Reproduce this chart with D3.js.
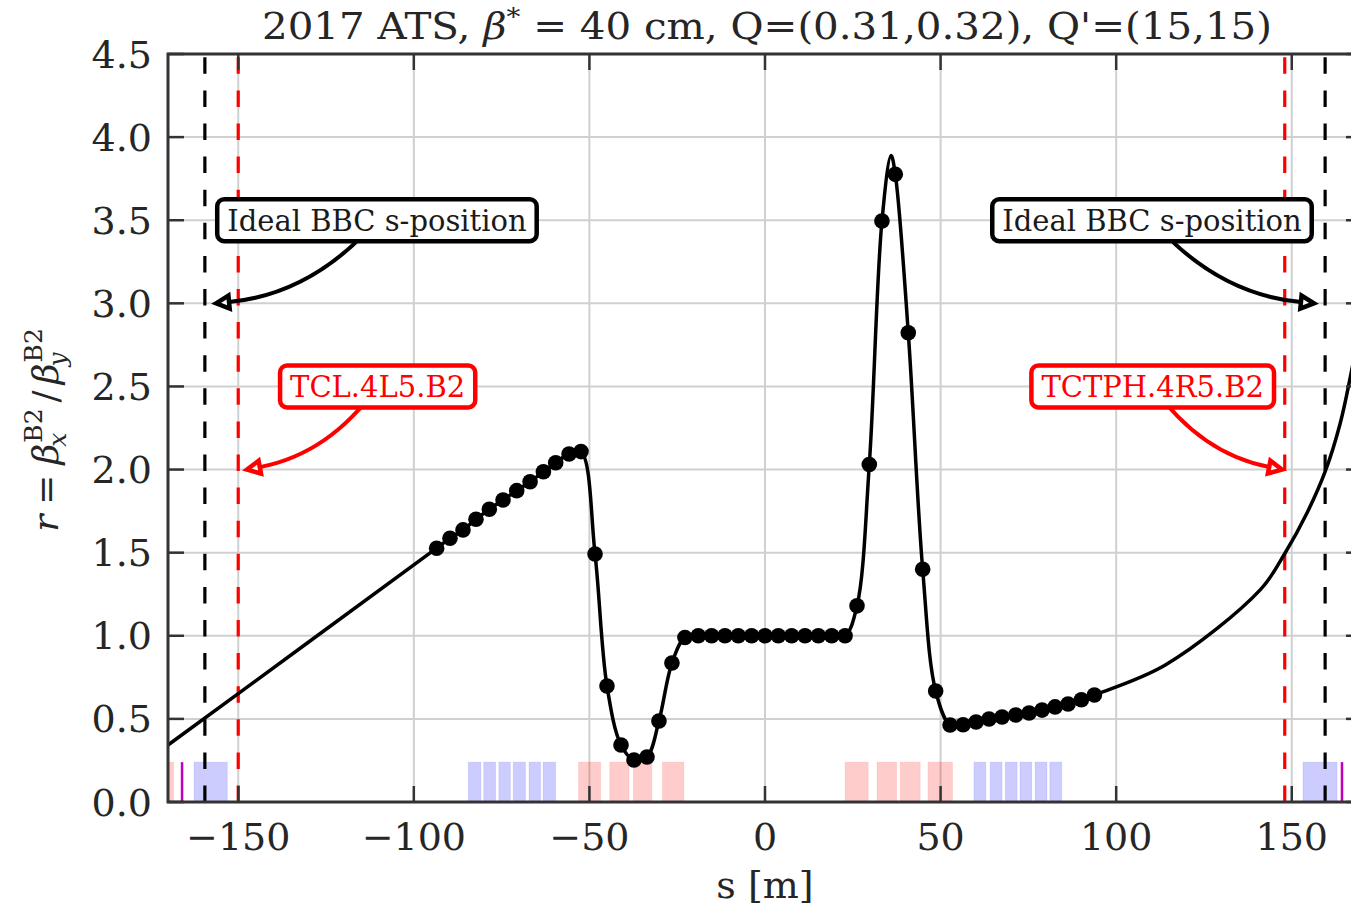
<!DOCTYPE html>
<html><head><meta charset="utf-8">
<script src="https://cdn.jsdelivr.net/npm/d3@7"></script>
<style>body{margin:0;background:#fff;} svg{display:block;}</style>
</head><body><svg id="chart" width="1351" height="910"></svg>
<script>
// ---------- data ----------
const xTicks = [-150, -100, -50, 0, 50, 100, 150];
const yTicks = [0, 0.5, 1.0, 1.5, 2.0, 2.5, 3.0, 3.5, 4.0, 4.5];
const xTickLabels = ["\u2212150", "\u2212100", "\u221250", "0", "50", "100", "150"];
const yTickLabels = ["0.0", "0.5", "1.0", "1.5", "2.0", "2.5", "3.0", "3.5", "4.0", "4.5"];

const sMarkers = [-93.5,-89.7,-86.0,-82.3,-78.5,-74.6,-70.7,-66.9,-63.1,-59.6,-55.8,-52.4,
  -48.4,-45.0,-41.0,-37.3,-33.6,-30.2,-26.5,
  -22.8,-19.0,-15.2,-11.4,-7.6,-3.8,0,3.8,7.6,11.4,15.2,19.0,22.8,
  26.2,29.7,33.3,37.1,40.8,44.9,48.6,
  52.7,56.4,60.1,63.8,67.5,71.4,75.2,78.9,82.6,86.3,90.1,93.8];
const rMarkers = [1.527,1.587,1.637,1.701,1.761,1.817,1.873,1.927,1.987,2.041,2.094,2.108,
  1.492,0.698,0.343,0.253,0.271,0.487,0.836,
  0.990,1.0,1.0,1.0,1.0,1.0,1.0,1.0,1.0,1.0,1.0,1.0,1.0,
  1.18,2.03,3.495,3.776,2.823,1.40,0.668,
  0.463,0.465,0.481,0.499,0.511,0.523,0.535,0.553,0.572,0.590,0.615,0.644];

const sLine = [-170,-93.5,-89.7,-86.0,-82.3,-78.5,-74.6,-70.7,-66.9,-63.1,-59.6,-55.8,-52.4,
  -48.4,-45.0,-41.0,-37.3,-33.6,-30.2,-26.5,
  -22.8,-19.0,-15.2,-11.4,-7.6,-3.8,0,3.8,7.6,11.4,15.2,19.0,22.8,
  26.2,29.7,33.3,35.9,37.1,40.8,44.9,48.6,
  52.7,56.4,60.1,63.8,67.5,71.4,75.2,78.9,82.6,86.3,90.1,93.8,
  114,141,148.1,154.3,159.5,163.8,166.9,170];
const rLine = [0.343,1.527,1.587,1.637,1.701,1.761,1.817,1.873,1.927,1.987,2.041,2.094,2.108,
  1.492,0.698,0.343,0.253,0.271,0.487,0.836,
  0.990,1.0,1.0,1.0,1.0,1.0,1.0,1.0,1.0,1.0,1.0,1.0,1.0,
  1.18,2.03,3.495,3.89,3.776,2.823,1.40,0.668,
  0.463,0.465,0.481,0.499,0.511,0.523,0.535,0.553,0.572,0.590,0.615,0.644,
  0.824,1.276,1.498,1.737,1.987,2.279,2.580,2.92];

// element boxes (s start / end)
const redBoxStart = [-173,-53.1,-44.2,-37.5,-29.2,22.8,31.9,38.5,46.4];
const redBoxEnd   = [-168.4,-46.8,-38.7,-32.2,-23.1,29.4,37.5,44.2,53.4];
const blueBoxStart = [-162.6,-84.5,-80.1,-75.8,-71.7,-67.2,-63.2,59.5,64.1,68.4,72.6,76.9,81.1,153.2];
const blueBoxEnd   = [-153.1,-80.9,-76.7,-72.5,-68.2,-63.9,-59.6,62.9,67.5,71.8,76.0,80.3,84.5,162.9];
const boxHeight = 0.24;
const magentaLines = [-166.0, 164.3];

const blackDashed = [-159.5, 159.5];
const redDashed = [-150, 148];

const annTexts = ["Ideal BBC s-position", "TCL.4L5.B2", "Ideal BBC s-position", "TCTPH.4R5.B2"];
const annTextS = [-110.5, -110.3, 110.2, 110.4];
const annTextR = [3.5, 2.5, 3.5, 2.5];
const annTargetS = [-156.3, -147.5, 156.3, 147.2];
const annTargetR = [3.0, 2.0, 3.0, 2.0];
const annColor = ["#000000", "#ff0000", "#000000", "#ff0000"];
const annRad = [0.2, 0.2, -0.2, -0.2];

// ---------- chart ----------
const svg = d3.select("#chart");
const L = 168, R = 1362, T = 54, B = 802;
const x = d3.scaleLinear().domain([-170, 170]).range([L, R]);
const y = d3.scaleLinear().domain([0, 4.5]).range([B, T]);
const serif = "'DejaVu Serif', 'Liberation Serif', serif";
const axisCol = "#333333";
const textCol = "#262626";

svg.append("defs").append("clipPath").attr("id", "plotclip")
  .append("rect").attr("x", L).attr("y", T).attr("width", R - L).attr("height", B - T);

// grid
const grid = svg.append("g");
grid.selectAll("line.gx").data(xTicks).enter().append("line")
  .attr("x1", d => x(d)).attr("x2", d => x(d)).attr("y1", T).attr("y2", B)
  .attr("stroke", "#d0d0d0").attr("stroke-width", 2);
grid.selectAll("line.gy").data(yTicks).enter().append("line")
  .attr("x1", L).attr("x2", R).attr("y1", d => y(d)).attr("y2", d => y(d))
  .attr("stroke", "#d0d0d0").attr("stroke-width", 2);

const plot = svg.append("g").attr("clip-path", "url(#plotclip)");

// element boxes
plot.selectAll("rect.red").data(redBoxStart).enter().append("rect")
  .attr("x", (d, i) => x(d)).attr("width", (d, i) => x(redBoxEnd[i]) - x(d))
  .attr("y", y(boxHeight)).attr("height", y(0) - y(boxHeight))
  .attr("fill", "rgba(255,0,0,0.2)").attr("stroke", "rgba(255,0,0,0.08)").attr("stroke-width", 1);
plot.selectAll("rect.blue").data(blueBoxStart).enter().append("rect")
  .attr("x", (d, i) => x(d)).attr("width", (d, i) => x(blueBoxEnd[i]) - x(d))
  .attr("y", y(boxHeight)).attr("height", y(0) - y(boxHeight))
  .attr("fill", "rgba(0,0,255,0.2)").attr("stroke", "rgba(0,0,255,0.08)").attr("stroke-width", 1);
plot.selectAll("line.mag").data(magentaLines).enter().append("line")
  .attr("x1", d => x(d)).attr("x2", d => x(d)).attr("y1", y(0)).attr("y2", y(boxHeight))
  .attr("stroke", "#bf00bf").attr("stroke-width", 2.5);

// dashed verticals (drawn from bottom to top)
plot.selectAll("line.bd").data(blackDashed).enter().append("line")
  .attr("x1", d => x(d)).attr("x2", d => x(d)).attr("y1", y(0)).attr("y2", y(4.5))
  .attr("stroke", "#000").attr("stroke-width", 3.2).attr("stroke-dasharray", "16.5,16.6");
plot.selectAll("line.rd").data(redDashed).enter().append("line")
  .attr("x1", d => x(d)).attr("x2", d => x(d)).attr("y1", y(0)).attr("y2", y(4.5))
  .attr("stroke", "#ff0000").attr("stroke-width", 3.2).attr("stroke-dasharray", "16.5,16.6");

// curve
const lineGen = d3.line().x(d => x(d[0])).y(d => y(d[1])).curve(d3.curveCatmullRom.alpha(0.5));
plot.append("path").datum(sLine.map((s, i) => [s, rLine[i]]))
  .attr("d", lineGen).attr("fill", "none").attr("stroke", "#000").attr("stroke-width", 3.5)
  .attr("stroke-linejoin", "round");
plot.selectAll("circle").data(sMarkers).enter().append("circle")
  .attr("cx", d => x(d)).attr("cy", (d, i) => y(rMarkers[i])).attr("r", 7.8).attr("fill", "#000");

// spines
svg.append("rect").attr("x", L).attr("y", T).attr("width", R - L).attr("height", B - T)
  .attr("fill", "none").attr("stroke", axisCol).attr("stroke-width", 3);

// ticks (inward, all four sides)
const tl = 16;
const tg = svg.append("g").attr("stroke", axisCol).attr("stroke-width", 2.5);
xTicks.forEach(d => {
  tg.append("line").attr("x1", x(d)).attr("x2", x(d)).attr("y1", B).attr("y2", B - tl);
  tg.append("line").attr("x1", x(d)).attr("x2", x(d)).attr("y1", T).attr("y2", T + tl);
});
yTicks.forEach(d => {
  tg.append("line").attr("x1", L).attr("x2", L + tl).attr("y1", y(d)).attr("y2", y(d));
  tg.append("line").attr("x1", R).attr("x2", R - tl).attr("y1", y(d)).attr("y2", y(d));
});

// tick labels
svg.selectAll("text.xt").data(xTicks).enter().append("text")
  .attr("x", d => x(d)).attr("y", 850).attr("text-anchor", "middle")
  .attr("font-family", serif).attr("font-size", 38).attr("fill", textCol)
  .text((d, i) => xTickLabels[i]);
svg.selectAll("text.yt").data(yTicks).enter().append("text")
  .attr("x", 152).attr("y", d => y(d) + 13.5).attr("text-anchor", "end")
  .attr("font-family", serif).attr("font-size", 38).attr("fill", textCol)
  .text((d, i) => yTickLabels[i]);

// x label
svg.append("text").attr("x", (L + R) / 2).attr("y", 898).attr("text-anchor", "middle")
  .attr("font-family", serif).attr("font-size", 38).attr("fill", textCol).text("s [m]");

// title
const title = svg.append("text").attr("x", (L + R) / 2 + 2).attr("y", 39).attr("text-anchor", "middle")
  .attr("font-family", serif).attr("font-size", 36.5).attr("fill", textCol)
  .attr("style", "white-space:pre");
title.append("tspan").text("2017 ATS, ");
title.append("tspan").attr("font-style", "italic").text("\u03B2");
title.append("tspan").attr("dy", -14).attr("font-size", 25).text("*");
title.append("tspan").attr("dy", 14).text(" = 40 cm, Q=(0.31,0.32), Q'=(15,15)");
title.attr("textLength", 1010).attr("lengthAdjust", "spacingAndGlyphs");

// y label (math, rotated)
const yl = svg.append("g").attr("transform", "translate(58,430) rotate(-90)");
const fsz = 36, ssz = 25;
let cur = 0;
const pieces = [];
function piece(t, opts, px) {
  const el = yl.append("text").attr("y", opts.dy || 0).attr("font-family", serif)
    .attr("font-size", opts.size || fsz).attr("fill", textCol)
    .attr("font-style", opts.italic ? "italic" : "normal").text(t);
  const w = el.node().getComputedTextLength();
  pieces.push({el: el, x: px});
  return w;
}
cur += piece("r", {italic: true}, cur);
cur += 10;
cur += piece("=", {}, cur);
cur += 10;
cur += piece("\u03B2", {italic: true}, cur);
let w1 = piece("B2", {size: ssz, dy: -16}, cur + 1);
let w2 = piece("x", {size: ssz, dy: 8, italic: true}, cur - 3);
cur += Math.max(w1 + 1, w2) + 6;
cur += piece("/", {}, cur);
cur += 6;
cur += piece("\u03B2", {italic: true}, cur);
w1 = piece("B2", {size: ssz, dy: -16}, cur + 1);
w2 = piece("y", {size: ssz, dy: 8, italic: true}, cur - 3);
cur += Math.max(w1 + 1, w2);
pieces.forEach(p => p.el.attr("x", p.x - cur / 2));

// annotations
annTexts.forEach((t, i) => {
  const g = svg.append("g");
  const sx = x(annTextS[i]), sy = y(annTextR[i]);
  const tx = x(annTargetS[i]), ty = y(annTargetR[i]);
  const mx = (sx + tx) / 2, my = (sy + ty) / 2;
  const dx = tx - sx, dy = ty - sy;
  const cx = mx + annRad[i] * dy, cy = my - annRad[i] * dx;
  const ux0 = tx - cx, uy0 = ty - cy, ul = Math.hypot(ux0, uy0);
  const ux = ux0 / ul, uy = uy0 / ul;
  const hl = 13, hw = 6.5;
  const bx = tx - ux * hl, by = ty - uy * hl;
  const nx = -uy, ny = ux;
  g.append("path").attr("d", `M${sx},${sy} Q${cx},${cy} ${bx},${by}`)
    .attr("fill", "none").attr("stroke", annColor[i]).attr("stroke-width", 4);
  g.append("path").attr("d", `M${tx},${ty} L${bx + nx * hw},${by + ny * hw} L${bx - nx * hw},${by - ny * hw} Z`)
    .attr("fill", "#fff").attr("stroke", annColor[i]).attr("stroke-width", 4.5).attr("stroke-linejoin", "miter");
  const rect = g.append("rect");
  const txt = g.append("text").attr("x", sx).attr("y", sy + 10.5).attr("text-anchor", "middle")
    .attr("font-family", serif).attr("font-size", 29).attr("fill", annColor[i] === "#000000" ? "#1a1a1a" : annColor[i]).text(t);
  const bb = txt.node().getBBox();
  const pad = 10;
  rect.attr("x", bb.x - pad).attr("width", bb.width + 2 * pad)
    .attr("y", sy - 21).attr("height", 42).attr("rx", 7).attr("ry", 7)
    .attr("fill", "#fff").attr("stroke", annColor[i]).attr("stroke-width", 4.5);
});
</script>
</body></html>
